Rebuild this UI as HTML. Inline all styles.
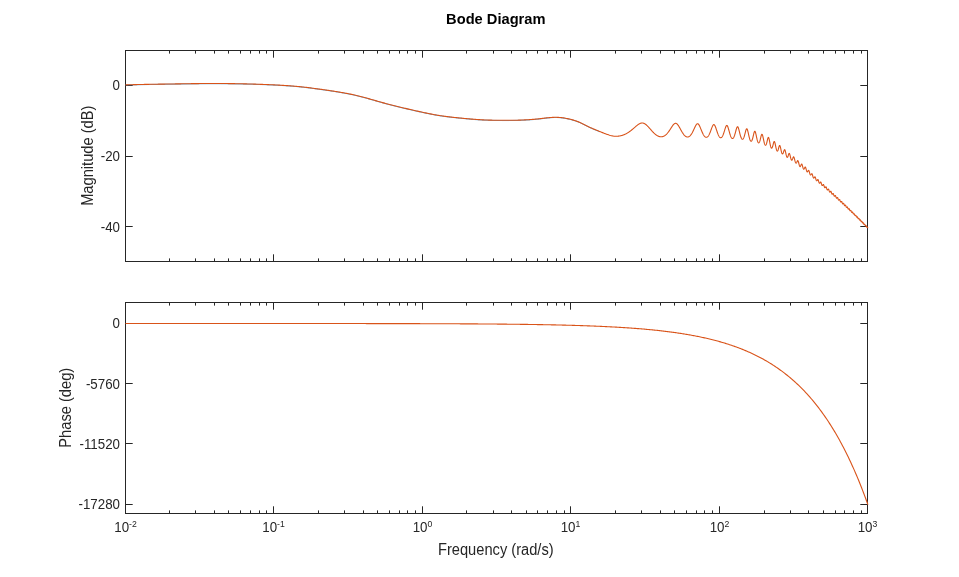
<!DOCTYPE html>
<html><head><meta charset="utf-8"><style>
html,body{margin:0;padding:0;background:#fff;}
svg{display:block;will-change:transform;}
text{font-family:"Liberation Sans",Arial,sans-serif;font-size:13.33px;fill:#262626;}
.lb{font-size:14.67px;}
</style></head><body>
<svg width="959" height="577" viewBox="0 0 959 577">
<rect width="959" height="577" fill="#fff"/>
<text transform="translate(495.8 23.8) scale(1 1.04)" text-anchor="middle" style="font-weight:bold;font-size:14.67px;fill:#000">Bode Diagram</text>
<g fill="none" stroke-linejoin="round">
<path d="M125.5 50.5H867.5V261.5H125.5V50.5M125.5 50.5v6.7M125.5 261.5v-6.7M169.5 50.5v2.6M169.5 261.5v-2.6M195.5 50.5v2.6M195.5 261.5v-2.6M214.5 50.5v2.6M214.5 261.5v-2.6M228.5 50.5v2.6M228.5 261.5v-2.6M240.5 50.5v2.6M240.5 261.5v-2.6M250.5 50.5v2.6M250.5 261.5v-2.6M259.5 50.5v2.6M259.5 261.5v-2.6M266.5 50.5v2.6M266.5 261.5v-2.6M273.5 50.5v6.7M273.5 261.5v-6.7M318.5 50.5v2.6M318.5 261.5v-2.6M344.5 50.5v2.6M344.5 261.5v-2.6M363.5 50.5v2.6M363.5 261.5v-2.6M377.5 50.5v2.6M377.5 261.5v-2.6M389.5 50.5v2.6M389.5 261.5v-2.6M399.5 50.5v2.6M399.5 261.5v-2.6M407.5 50.5v2.6M407.5 261.5v-2.6M415.5 50.5v2.6M415.5 261.5v-2.6M422.5 50.5v6.7M422.5 261.5v-6.7M466.5 50.5v2.6M466.5 261.5v-2.6M493.5 50.5v2.6M493.5 261.5v-2.6M511.5 50.5v2.6M511.5 261.5v-2.6M526.5 50.5v2.6M526.5 261.5v-2.6M537.5 50.5v2.6M537.5 261.5v-2.6M547.5 50.5v2.6M547.5 261.5v-2.6M556.5 50.5v2.6M556.5 261.5v-2.6M564.5 50.5v2.6M564.5 261.5v-2.6M570.5 50.5v6.7M570.5 261.5v-6.7M615.5 50.5v2.6M615.5 261.5v-2.6M641.5 50.5v2.6M641.5 261.5v-2.6M660.5 50.5v2.6M660.5 261.5v-2.6M674.5 50.5v2.6M674.5 261.5v-2.6M686.5 50.5v2.6M686.5 261.5v-2.6M696.5 50.5v2.6M696.5 261.5v-2.6M704.5 50.5v2.6M704.5 261.5v-2.6M712.5 50.5v2.6M712.5 261.5v-2.6M719.5 50.5v6.7M719.5 261.5v-6.7M764.5 50.5v2.6M764.5 261.5v-2.6M790.5 50.5v2.6M790.5 261.5v-2.6M808.5 50.5v2.6M808.5 261.5v-2.6M823.5 50.5v2.6M823.5 261.5v-2.6M835.5 50.5v2.6M835.5 261.5v-2.6M844.5 50.5v2.6M844.5 261.5v-2.6M853.5 50.5v2.6M853.5 261.5v-2.6M861.5 50.5v2.6M861.5 261.5v-2.6M867.5 50.5v6.7M867.5 261.5v-6.7M125.5 85.5h6.7M867.5 85.5h-6.7M125.5 156.5h6.7M867.5 156.5h-6.7M125.5 226.5h6.7M867.5 226.5h-6.7M125.5 302.5H867.5V513.5H125.5V302.5M125.5 302.5v6.7M125.5 513.5v-6.7M169.5 302.5v2.6M169.5 513.5v-2.6M195.5 302.5v2.6M195.5 513.5v-2.6M214.5 302.5v2.6M214.5 513.5v-2.6M228.5 302.5v2.6M228.5 513.5v-2.6M240.5 302.5v2.6M240.5 513.5v-2.6M250.5 302.5v2.6M250.5 513.5v-2.6M259.5 302.5v2.6M259.5 513.5v-2.6M266.5 302.5v2.6M266.5 513.5v-2.6M273.5 302.5v6.7M273.5 513.5v-6.7M318.5 302.5v2.6M318.5 513.5v-2.6M344.5 302.5v2.6M344.5 513.5v-2.6M363.5 302.5v2.6M363.5 513.5v-2.6M377.5 302.5v2.6M377.5 513.5v-2.6M389.5 302.5v2.6M389.5 513.5v-2.6M399.5 302.5v2.6M399.5 513.5v-2.6M407.5 302.5v2.6M407.5 513.5v-2.6M415.5 302.5v2.6M415.5 513.5v-2.6M422.5 302.5v6.7M422.5 513.5v-6.7M466.5 302.5v2.6M466.5 513.5v-2.6M493.5 302.5v2.6M493.5 513.5v-2.6M511.5 302.5v2.6M511.5 513.5v-2.6M526.5 302.5v2.6M526.5 513.5v-2.6M537.5 302.5v2.6M537.5 513.5v-2.6M547.5 302.5v2.6M547.5 513.5v-2.6M556.5 302.5v2.6M556.5 513.5v-2.6M564.5 302.5v2.6M564.5 513.5v-2.6M570.5 302.5v6.7M570.5 513.5v-6.7M615.5 302.5v2.6M615.5 513.5v-2.6M641.5 302.5v2.6M641.5 513.5v-2.6M660.5 302.5v2.6M660.5 513.5v-2.6M674.5 302.5v2.6M674.5 513.5v-2.6M686.5 302.5v2.6M686.5 513.5v-2.6M696.5 302.5v2.6M696.5 513.5v-2.6M704.5 302.5v2.6M704.5 513.5v-2.6M712.5 302.5v2.6M712.5 513.5v-2.6M719.5 302.5v6.7M719.5 513.5v-6.7M764.5 302.5v2.6M764.5 513.5v-2.6M790.5 302.5v2.6M790.5 513.5v-2.6M808.5 302.5v2.6M808.5 513.5v-2.6M823.5 302.5v2.6M823.5 513.5v-2.6M835.5 302.5v2.6M835.5 513.5v-2.6M844.5 302.5v2.6M844.5 513.5v-2.6M853.5 302.5v2.6M853.5 513.5v-2.6M861.5 302.5v2.6M861.5 513.5v-2.6M867.5 302.5v6.7M867.5 513.5v-6.7M125.5 323.5h6.7M867.5 323.5h-6.7M125.5 383.5h6.7M867.5 383.5h-6.7M125.5 443.5h6.7M867.5 443.5h-6.7M125.5 504.5h6.7M867.5 504.5h-6.7" stroke="#262626" stroke-width="1" stroke-linecap="square"/>
<path d="M125.50 85.10L126.50 85.07L127.50 85.03L128.50 85.00L129.50 84.97L130.50 84.94L131.50 84.91L132.50 84.89L133.50 84.86L134.50 84.83L135.50 84.81L136.50 84.78L137.50 84.76L138.50 84.73L139.50 84.71L140.50 84.69L141.50 84.67L142.50 84.65L143.50 84.63L144.50 84.61L145.50 84.59L146.50 84.57L147.50 84.55L148.50 84.53L149.50 84.52L150.50 84.50L151.50 84.48L152.50 84.46L153.50 84.45L154.50 84.43L155.50 84.42L156.50 84.40L157.50 84.39L158.50 84.37L159.50 84.36L160.50 84.34L161.50 84.33L162.50 84.31L163.50 84.30L164.50 84.28L165.50 84.27L166.50 84.25L167.50 84.24L168.50 84.22L169.50 84.21L170.50 84.19L171.50 84.18L172.50 84.16L173.50 84.15L174.50 84.13L175.50 84.11L176.50 84.10L177.50 84.08L178.50 84.06L179.50 84.05L180.50 84.03L181.50 84.02L182.50 84.00L183.50 83.99L184.50 83.97L185.50 83.95L186.50 83.94L187.50 83.92L188.50 83.91L189.50 83.89L190.50 83.88L191.50 83.87L192.50 83.85L193.50 83.84L194.50 83.83L195.50 83.82L196.50 83.80L197.50 83.79L198.50 83.78L199.50 83.77L200.50 83.76L201.50 83.75L202.50 83.74L203.50 83.73L204.50 83.73L205.50 83.72L206.50 83.71L207.50 83.71L208.50 83.71L209.50 83.70L210.50 83.70L211.50 83.70L212.50 83.70L213.50 83.69L214.50 83.70L215.50 83.70L216.50 83.70L217.50 83.70L218.50 83.70L219.50 83.71L220.50 83.71L221.50 83.72L222.50 83.73L223.50 83.73L224.50 83.74L225.50 83.75L226.50 83.76L227.50 83.77L228.50 83.78L229.50 83.79L230.50 83.81L231.50 83.82L232.50 83.83L233.50 83.85L234.50 83.87L235.50 83.88L236.50 83.90L237.50 83.92L238.50 83.94L239.50 83.95L240.50 83.97L241.50 84.00L242.50 84.02L243.50 84.04L244.50 84.06L245.50 84.09L246.50 84.11L247.50 84.13L248.50 84.16L249.50 84.19L250.50 84.21L251.50 84.24L252.50 84.27L253.50 84.30L254.50 84.33L255.50 84.36L256.50 84.39L257.50 84.42L258.50 84.46L259.50 84.49L260.50 84.53L261.50 84.56L262.50 84.60L263.50 84.63L264.50 84.67L265.50 84.71L266.50 84.75L267.50 84.79L268.50 84.84L269.50 84.88L270.50 84.92L271.50 84.97L272.50 85.02L273.50 85.06L274.50 85.11L275.50 85.16L276.50 85.21L277.50 85.26L278.50 85.32L279.50 85.37L280.50 85.43L281.50 85.48L282.50 85.54L283.50 85.60L284.50 85.66L285.50 85.73L286.50 85.79L287.50 85.86L288.50 85.93L289.50 86.00L290.50 86.07L291.50 86.15L292.50 86.23L293.50 86.31L294.50 86.39L295.50 86.48L296.50 86.56L297.50 86.66L298.50 86.75L299.50 86.85L300.50 86.95L301.50 87.06L302.50 87.16L303.50 87.27L304.50 87.39L305.50 87.50L306.50 87.62L307.50 87.74L308.50 87.87L309.50 87.99L310.50 88.12L311.50 88.25L312.50 88.38L313.50 88.51L314.50 88.65L315.50 88.78L316.50 88.92L317.50 89.05L318.50 89.19L319.50 89.33L320.50 89.47L321.50 89.61L322.50 89.75L323.50 89.89L324.50 90.03L325.50 90.17L326.50 90.31L327.50 90.46L328.50 90.60L329.50 90.75L330.50 90.90L331.50 91.05L332.50 91.20L333.50 91.35L334.50 91.51L335.50 91.67L336.50 91.82L337.50 91.99L338.50 92.15L339.50 92.32L340.50 92.48L341.50 92.66L342.50 92.83L343.50 93.01L344.50 93.19L345.50 93.37L346.50 93.56L347.50 93.75L348.50 93.94L349.50 94.14L350.50 94.35L351.50 94.55L352.50 94.76L353.50 94.98L354.50 95.20L355.50 95.42L356.50 95.65L357.50 95.89L358.50 96.13L359.50 96.38L360.50 96.63L361.50 96.88L362.50 97.14L363.50 97.41L364.50 97.68L365.50 97.95L366.50 98.23L367.50 98.51L368.50 98.80L369.50 99.08L370.50 99.37L371.50 99.66L372.50 99.94L373.50 100.23L374.50 100.52L375.50 100.81L376.50 101.10L377.50 101.39L378.50 101.67L379.50 101.96L380.50 102.24L381.50 102.52L382.50 102.80L383.50 103.07L384.50 103.34L385.50 103.61L386.50 103.88L387.50 104.14L388.50 104.41L389.50 104.67L390.50 104.93L391.50 105.18L392.50 105.44L393.50 105.69L394.50 105.94L395.50 106.19L396.50 106.44L397.50 106.69L398.50 106.93L399.50 107.18L400.50 107.42L401.50 107.66L402.50 107.90L403.50 108.14L404.50 108.38L405.50 108.61L406.50 108.85L407.50 109.08L408.50 109.31L409.50 109.54L410.50 109.77L411.50 110.00L412.50 110.23L413.50 110.46L414.50 110.68L415.50 110.90L416.50 111.13L417.50 111.35L418.50 111.57L419.50 111.79L420.50 112.01L421.50 112.23L422.50 112.44L423.50 112.66L424.50 112.87L425.50 113.08L426.50 113.29L427.50 113.50L428.50 113.70L429.50 113.91L430.50 114.11L431.50 114.30L432.50 114.49L433.50 114.68L434.50 114.87L435.50 115.05L436.50 115.22L437.50 115.39L438.50 115.56L439.50 115.72L440.50 115.88L441.50 116.03L442.50 116.18L443.50 116.32L444.50 116.45L445.50 116.59L446.50 116.72L447.50 116.84L448.50 116.96L449.50 117.08L450.50 117.20L451.50 117.31L452.50 117.42L453.50 117.53L454.50 117.64L455.50 117.74L456.50 117.85L457.50 117.95L458.50 118.05L459.50 118.15L460.50 118.25L461.50 118.35L462.50 118.45L463.50 118.55L464.50 118.64L465.50 118.74L466.50 118.83L467.50 118.93L468.50 119.02L469.50 119.11L470.50 119.20L471.50 119.28L472.50 119.36L473.50 119.45L474.50 119.52L475.50 119.60L476.50 119.67L477.50 119.74L478.50 119.81L479.50 119.87L480.50 119.93L481.50 119.98L482.50 120.04L483.50 120.09L484.50 120.13L485.50 120.17L486.50 120.21L487.50 120.25L488.50 120.28L489.50 120.31L490.50 120.34L491.50 120.37L492.50 120.39L493.50 120.41L494.50 120.43L495.50 120.45L496.50 120.46L497.50 120.47L498.50 120.49L499.50 120.50L500.50 120.50L501.50 120.51L502.50 120.52L503.50 120.52L504.50 120.52L505.50 120.52L506.50 120.52L507.50 120.52L508.50 120.52L509.50 120.51L510.50 120.50L511.50 120.49L512.50 120.48L513.50 120.46L514.50 120.44L515.50 120.42L516.50 120.40L517.50 120.38L518.50 120.35L519.50 120.32L520.50 120.28L521.50 120.25L522.50 120.21L523.50 120.16L524.50 120.12L525.50 120.07L526.50 120.02L527.50 119.96L528.50 119.90L529.50 119.84L530.50 119.77L531.50 119.70L532.50 119.62L533.50 119.54L534.50 119.45L535.50 119.36L536.50 119.27L537.50 119.17L538.50 119.07L539.50 118.96L540.50 118.84L541.50 118.72L542.50 118.60L543.50 118.48L544.50 118.36L545.50 118.24L546.50 118.12L547.50 118.01L548.50 117.90L549.50 117.81L550.50 117.72L551.50 117.65L552.50 117.58L553.50 117.54L554.50 117.51L555.50 117.50L556.50 117.51L557.50 117.54L558.50 117.59L559.50 117.65L560.50 117.74L561.50 117.85L562.50 117.97L563.50 118.11L564.50 118.27L565.50 118.44L566.50 118.63L567.50 118.83L568.50 119.05L569.50 119.28L570.50 119.52L571.50 119.78L572.50 120.06L573.50 120.34L574.50 120.65L575.50 120.98L576.50 121.32L577.50 121.69L578.50 122.07L579.50 122.49L580.50 122.92L581.50 123.38L582.50 123.86L583.50 124.35L584.50 124.85L585.50 125.36L586.50 125.87L587.50 126.37L588.50 126.87L589.50 127.36L590.50 127.83L591.50 128.29L592.50 128.73L593.50 129.16L594.50 129.58L595.50 129.99L596.50 130.39L597.50 130.80L598.50 131.20L599.50 131.60" stroke="#0072bd" stroke-width="0.7"/>
<path d="M125.50 84.90L126.50 84.87L127.50 84.83L128.50 84.80L129.50 84.77L130.50 84.74L131.50 84.71L132.50 84.69L133.50 84.66L134.50 84.63L135.50 84.61L136.50 84.58L137.50 84.56L138.50 84.53L139.50 84.51L140.50 84.49L141.50 84.47L142.50 84.45L143.50 84.43L144.50 84.41L145.50 84.39L146.50 84.37L147.50 84.35L148.50 84.33L149.50 84.32L150.50 84.30L151.50 84.28L152.50 84.26L153.50 84.25L154.50 84.23L155.50 84.22L156.50 84.20L157.50 84.19L158.50 84.17L159.50 84.16L160.50 84.14L161.50 84.13L162.50 84.11L163.50 84.10L164.50 84.08L165.50 84.07L166.50 84.05L167.50 84.04L168.50 84.02L169.50 84.01L170.50 83.99L171.50 83.98L172.50 83.96L173.50 83.95L174.50 83.93L175.50 83.91L176.50 83.90L177.50 83.88L178.50 83.86L179.50 83.85L180.50 83.83L181.50 83.82L182.50 83.80L183.50 83.79L184.50 83.77L185.50 83.75L186.50 83.74L187.50 83.72L188.50 83.71L189.50 83.69L190.50 83.68L191.50 83.67L192.50 83.65L193.50 83.64L194.50 83.63L195.50 83.62L196.50 83.60L197.50 83.59L198.50 83.58L199.50 83.57L200.50 83.56L201.50 83.55L202.50 83.54L203.50 83.53L204.50 83.53L205.50 83.52L206.50 83.51L207.50 83.51L208.50 83.51L209.50 83.50L210.50 83.50L211.50 83.50L212.50 83.50L213.50 83.49L214.50 83.50L215.50 83.50L216.50 83.50L217.50 83.50L218.50 83.50L219.50 83.51L220.50 83.51L221.50 83.52L222.50 83.53L223.50 83.53L224.50 83.54L225.50 83.55L226.50 83.56L227.50 83.57L228.50 83.58L229.50 83.59L230.50 83.61L231.50 83.62L232.50 83.63L233.50 83.65L234.50 83.67L235.50 83.68L236.50 83.70L237.50 83.72L238.50 83.74L239.50 83.75L240.50 83.77L241.50 83.80L242.50 83.82L243.50 83.84L244.50 83.86L245.50 83.89L246.50 83.91L247.50 83.93L248.50 83.96L249.50 83.99L250.50 84.01L251.50 84.04L252.50 84.07L253.50 84.10L254.50 84.13L255.50 84.16L256.50 84.19L257.50 84.22L258.50 84.26L259.50 84.29L260.50 84.33L261.50 84.36L262.50 84.40L263.50 84.43L264.50 84.47L265.50 84.51L266.50 84.55L267.50 84.59L268.50 84.64L269.50 84.68L270.50 84.72L271.50 84.77L272.50 84.82L273.50 84.86L274.50 84.91L275.50 84.96L276.50 85.01L277.50 85.06L278.50 85.12L279.50 85.17L280.50 85.23L281.50 85.28L282.50 85.34L283.50 85.40L284.50 85.46L285.50 85.53L286.50 85.59L287.50 85.66L288.50 85.73L289.50 85.80L290.50 85.87L291.50 85.95L292.50 86.03L293.50 86.11L294.50 86.19L295.50 86.28L296.50 86.36L297.50 86.46L298.50 86.55L299.50 86.65L300.50 86.75L301.50 86.86L302.50 86.96L303.50 87.07L304.50 87.19L305.50 87.30L306.50 87.42L307.50 87.54L308.50 87.67L309.50 87.79L310.50 87.92L311.50 88.05L312.50 88.18L313.50 88.31L314.50 88.45L315.50 88.58L316.50 88.72L317.50 88.85L318.50 88.99L319.50 89.13L320.50 89.27L321.50 89.41L322.50 89.55L323.50 89.69L324.50 89.83L325.50 89.97L326.50 90.11L327.50 90.26L328.50 90.40L329.50 90.55L330.50 90.70L331.50 90.85L332.50 91.00L333.50 91.15L334.50 91.31L335.50 91.47L336.50 91.62L337.50 91.79L338.50 91.95L339.50 92.12L340.50 92.28L341.50 92.46L342.50 92.63L343.50 92.81L344.50 92.99L345.50 93.17L346.50 93.36L347.50 93.55L348.50 93.74L349.50 93.94L350.50 94.15L351.50 94.35L352.50 94.56L353.50 94.78L354.50 95.00L355.50 95.22L356.50 95.45L357.50 95.69L358.50 95.93L359.50 96.18L360.50 96.43L361.50 96.68L362.50 96.94L363.50 97.21L364.50 97.48L365.50 97.75L366.50 98.03L367.50 98.31L368.50 98.60L369.50 98.88L370.50 99.17L371.50 99.46L372.50 99.74L373.50 100.03L374.50 100.32L375.50 100.61L376.50 100.90L377.50 101.19L378.50 101.47L379.50 101.76L380.50 102.04L381.50 102.32L382.50 102.60L383.50 102.87L384.50 103.14L385.50 103.41L386.50 103.68L387.50 103.94L388.50 104.21L389.50 104.47L390.50 104.73L391.50 104.98L392.50 105.24L393.50 105.49L394.50 105.74L395.50 105.99L396.50 106.24L397.50 106.49L398.50 106.73L399.50 106.98L400.50 107.22L401.50 107.46L402.50 107.70L403.50 107.94L404.50 108.18L405.50 108.41L406.50 108.65L407.50 108.88L408.50 109.11L409.50 109.34L410.50 109.57L411.50 109.80L412.50 110.03L413.50 110.26L414.50 110.48L415.50 110.70L416.50 110.93L417.50 111.15L418.50 111.37L419.50 111.59L420.50 111.81L421.50 112.03L422.50 112.24L423.50 112.46L424.50 112.67L425.50 112.88L426.50 113.09L427.50 113.30L428.50 113.50L429.50 113.71L430.50 113.91L431.50 114.10L432.50 114.29L433.50 114.48L434.50 114.67L435.50 114.85L436.50 115.02L437.50 115.19L438.50 115.36L439.50 115.52L440.50 115.68L441.50 115.83L442.50 115.98L443.50 116.12L444.50 116.25L445.50 116.39L446.50 116.52L447.50 116.64L448.50 116.76L449.50 116.88L450.50 117.00L451.50 117.11L452.50 117.22L453.50 117.33L454.50 117.44L455.50 117.54L456.50 117.65L457.50 117.75L458.50 117.85L459.50 117.95L460.50 118.05L461.50 118.15L462.50 118.25L463.50 118.35L464.50 118.44L465.50 118.54L466.50 118.63L467.50 118.73L468.50 118.82L469.50 118.91L470.50 119.00L471.50 119.08L472.50 119.16L473.50 119.25L474.50 119.32L475.50 119.40L476.50 119.47L477.50 119.54L478.50 119.61L479.50 119.67L480.50 119.73L481.50 119.78L482.50 119.84L483.50 119.89L484.50 119.93L485.50 119.97L486.50 120.01L487.50 120.05L488.50 120.08L489.50 120.11L490.50 120.14L491.50 120.17L492.50 120.19L493.50 120.21L494.50 120.23L495.50 120.25L496.50 120.26L497.50 120.27L498.50 120.29L499.50 120.30L500.50 120.30L501.50 120.31L502.50 120.32L503.50 120.32L504.50 120.32L505.50 120.32L506.50 120.32L507.50 120.32L508.50 120.32L509.50 120.31L510.50 120.30L511.50 120.29L512.50 120.28L513.50 120.26L514.50 120.24L515.50 120.22L516.50 120.20L517.50 120.18L518.50 120.15L519.50 120.12L520.50 120.08L521.50 120.05L522.50 120.01L523.50 119.96L524.50 119.92L525.50 119.87L526.50 119.82L527.50 119.76L528.50 119.70L529.50 119.64L530.50 119.57L531.50 119.50L532.50 119.42L533.50 119.34L534.50 119.25L535.50 119.16L536.50 119.07L537.50 118.97L538.50 118.87L539.50 118.76L540.50 118.64L541.50 118.52L542.50 118.40L543.50 118.28L544.50 118.16L545.50 118.04L546.50 117.92L547.50 117.81L548.50 117.70L549.50 117.61L550.50 117.52L551.50 117.45L552.50 117.38L553.50 117.34L554.50 117.31L555.50 117.30L556.50 117.31L557.50 117.34L558.50 117.39L559.50 117.45L560.50 117.54L561.50 117.65L562.50 117.77L563.50 117.91L564.50 118.07L565.50 118.24L566.50 118.43L567.50 118.63L568.50 118.85L569.50 119.08L570.50 119.32L571.50 119.58L572.50 119.86L573.50 120.14L574.50 120.45L575.50 120.78L576.50 121.12L577.50 121.49L578.50 121.87L579.50 122.29L580.50 122.72L581.50 123.18L582.50 123.66L583.50 124.15L584.50 124.65L585.50 125.16L586.50 125.67L587.50 126.17L588.50 126.67L589.50 127.16L590.50 127.63L591.50 128.09L592.50 128.53L593.50 128.96L594.50 129.38L595.50 129.79L596.50 130.19L597.50 130.60L598.50 131.00L599.50 131.40L600.50 131.80L601.50 132.21L602.50 132.62L603.50 133.02L604.50 133.41L605.50 133.80L606.50 134.17L607.50 134.52L608.50 134.85L609.50 135.16L610.50 135.44L611.50 135.69L612.50 135.90L613.50 136.08L614.50 136.21L615.40 136.30L615.60 136.30L615.80 136.30L616.00 136.30L616.20 136.30L616.40 136.29L616.60 136.28L616.80 136.28L617.00 136.27L617.20 136.25L617.40 136.24L617.60 136.23L617.80 136.21L618.00 136.19L618.20 136.17L618.40 136.15L618.60 136.12L618.80 136.10L619.00 136.07L619.20 136.04L619.40 136.01L619.60 135.97L619.80 135.94L620.00 135.90L620.20 135.86L620.40 135.82L620.60 135.77L620.80 135.73L621.00 135.68L621.20 135.63L621.40 135.58L621.60 135.53L621.80 135.47L622.00 135.41L622.20 135.35L622.40 135.29L622.60 135.23L622.80 135.16L623.00 135.09L623.20 135.02L623.40 134.95L623.60 134.87L623.80 134.79L624.00 134.72L624.20 134.63L624.40 134.55L624.60 134.46L624.80 134.38L625.00 134.28L625.20 134.19L625.40 134.10L625.60 134.00L625.80 133.90L626.00 133.80L626.20 133.69L626.40 133.59L626.60 133.48L626.80 133.37L627.00 133.25L627.20 133.14L627.40 133.02L627.60 132.90L627.80 132.78L628.00 132.65L628.20 132.52L628.40 132.39L628.60 132.26L628.80 132.13L629.00 131.99L629.20 131.86L629.40 131.71L629.60 131.57L629.80 131.43L630.00 131.28L630.20 131.13L630.40 130.98L630.60 130.83L630.80 130.68L631.00 130.52L631.20 130.36L631.40 130.20L631.60 130.04L631.80 129.88L632.00 129.71L632.20 129.55L632.40 129.38L632.60 129.21L632.80 129.04L633.00 128.87L633.20 128.70L633.40 128.52L633.60 128.35L633.80 128.18L634.00 128.00L634.20 127.83L634.40 127.65L634.60 127.48L634.80 127.30L635.00 127.13L635.20 126.95L635.40 126.78L635.60 126.60L635.80 126.43L636.00 126.26L636.20 126.09L636.40 125.92L636.60 125.76L636.80 125.59L637.00 125.43L637.20 125.28L637.40 125.12L637.60 124.97L637.80 124.82L638.00 124.67L638.20 124.53L638.40 124.40L638.60 124.26L638.80 124.14L639.00 124.01L639.20 123.90L639.40 123.79L639.60 123.68L639.80 123.59L640.00 123.49L640.20 123.41L640.40 123.33L640.60 123.26L640.80 123.20L641.00 123.15L641.20 123.10L641.40 123.06L641.60 123.03L641.80 123.01L642.00 123.00L642.20 123.00L642.40 123.01L642.60 123.02L642.80 123.04L643.00 123.08L643.20 123.12L643.40 123.17L643.60 123.23L643.80 123.30L644.00 123.38L644.20 123.47L644.40 123.57L644.60 123.67L644.80 123.79L645.00 123.91L645.20 124.04L645.40 124.17L645.60 124.32L645.80 124.47L646.00 124.63L646.20 124.79L646.40 124.96L646.60 125.14L646.80 125.32L647.00 125.51L647.20 125.71L647.40 125.90L647.60 126.11L647.80 126.31L648.00 126.52L648.20 126.74L648.40 126.95L648.60 127.17L648.80 127.39L649.00 127.62L649.20 127.84L649.40 128.07L649.60 128.30L649.80 128.52L650.00 128.75L650.20 128.98L650.40 129.21L650.60 129.44L650.80 129.67L651.00 129.90L651.20 130.13L651.40 130.35L651.60 130.58L651.80 130.80L652.00 131.02L652.20 131.24L652.40 131.46L652.60 131.67L652.80 131.88L653.00 132.09L653.20 132.30L653.40 132.50L653.60 132.70L653.80 132.90L654.00 133.09L654.20 133.28L654.40 133.47L654.60 133.65L654.80 133.83L655.00 134.00L655.20 134.17L655.40 134.33L655.60 134.49L655.80 134.65L656.00 134.80L656.20 134.95L656.40 135.09L656.60 135.22L656.80 135.36L657.00 135.48L657.20 135.60L657.40 135.72L657.60 135.83L657.80 135.93L658.00 136.03L658.20 136.13L658.40 136.21L658.60 136.30L658.80 136.37L659.00 136.44L659.20 136.51L659.40 136.56L659.60 136.62L659.80 136.66L660.00 136.70L660.20 136.73L660.40 136.76L660.60 136.78L660.80 136.79L661.00 136.80L661.20 136.80L661.40 136.80L661.60 136.78L661.80 136.76L662.00 136.74L662.20 136.70L662.40 136.66L662.60 136.61L662.80 136.56L663.00 136.49L663.20 136.43L663.40 136.35L663.60 136.26L663.80 136.17L664.00 136.07L664.20 135.97L664.40 135.85L664.60 135.73L664.80 135.60L665.00 135.46L665.20 135.32L665.40 135.17L665.60 135.01L665.80 134.84L666.00 134.67L666.20 134.48L666.40 134.29L666.60 134.10L666.80 133.89L667.00 133.68L667.20 133.46L667.40 133.23L667.60 132.99L667.80 132.75L668.00 132.50L668.20 132.25L668.40 131.99L668.60 131.72L668.80 131.44L669.00 131.16L669.20 130.88L669.40 130.59L669.60 130.29L669.80 129.99L670.00 129.69L670.20 129.38L670.40 129.07L670.60 128.76L670.80 128.45L671.00 128.14L671.20 127.82L671.40 127.51L671.60 127.20L671.80 126.89L672.00 126.59L672.20 126.29L672.40 126.00L672.60 125.72L672.80 125.45L673.00 125.18L673.20 124.93L673.40 124.69L673.60 124.47L673.80 124.26L674.00 124.07L674.20 123.89L674.40 123.74L674.60 123.61L674.80 123.50L675.00 123.41L675.20 123.35L675.40 123.31L675.60 123.30L675.80 123.31L676.00 123.35L676.20 123.41L676.40 123.50L676.60 123.61L676.80 123.75L677.00 123.91L677.20 124.10L677.40 124.30L677.60 124.53L677.80 124.78L678.00 125.04L678.20 125.32L678.40 125.62L678.60 125.92L678.80 126.24L679.00 126.58L679.20 126.92L679.40 127.26L679.60 127.62L679.80 127.98L680.00 128.34L680.20 128.70L680.40 129.07L680.60 129.43L680.80 129.80L681.00 130.16L681.20 130.52L681.40 130.87L681.60 131.22L681.80 131.57L682.00 131.90L682.20 132.23L682.40 132.56L682.60 132.87L682.80 133.18L683.00 133.47L683.20 133.76L683.40 134.04L683.60 134.31L683.80 134.56L684.00 134.81L684.20 135.04L684.40 135.26L684.60 135.47L684.80 135.66L685.00 135.85L685.20 136.02L685.40 136.18L685.60 136.32L685.80 136.45L686.00 136.57L686.20 136.67L686.40 136.76L686.60 136.84L686.80 136.90L687.00 136.95L687.20 136.98L687.40 137.00L687.60 137.00L687.80 136.99L688.00 136.96L688.20 136.92L688.40 136.86L688.60 136.78L688.80 136.69L689.00 136.59L689.20 136.47L689.40 136.33L689.60 136.18L689.80 136.01L690.00 135.83L690.20 135.63L690.40 135.41L690.60 135.18L690.80 134.94L691.00 134.67L691.20 134.40L691.40 134.10L691.60 133.80L691.80 133.47L692.00 133.14L692.20 132.79L692.40 132.42L692.60 132.05L692.80 131.66L693.00 131.26L693.20 130.85L693.40 130.43L693.60 130.01L693.80 129.58L694.00 129.14L694.20 128.70L694.40 128.26L694.60 127.83L694.80 127.40L695.00 126.97L695.20 126.56L695.40 126.16L695.60 125.78L695.80 125.42L696.00 125.08L696.20 124.77L696.40 124.50L696.60 124.26L696.80 124.06L697.00 123.90L697.20 123.79L697.40 123.72L697.60 123.70L697.80 123.73L698.00 123.82L698.20 123.95L698.40 124.12L698.60 124.34L698.80 124.61L699.00 124.92L699.20 125.26L699.40 125.63L699.60 126.03L699.80 126.46L700.00 126.91L700.20 127.38L700.40 127.86L700.60 128.34L700.80 128.84L701.00 129.34L701.20 129.83L701.40 130.33L701.60 130.82L701.80 131.30L702.00 131.77L702.20 132.23L702.40 132.67L702.60 133.11L702.80 133.52L703.00 133.92L703.20 134.30L703.40 134.66L703.60 135.00L703.80 135.31L704.00 135.61L704.20 135.89L704.40 136.14L704.60 136.36L704.80 136.57L705.00 136.75L705.20 136.90L705.40 137.03L705.60 137.14L705.80 137.22L706.00 137.27L706.20 137.30L706.40 137.30L706.60 137.27L706.80 137.22L707.00 137.14L707.20 137.03L707.40 136.89L707.60 136.73L707.80 136.54L708.00 136.32L708.20 136.07L708.40 135.80L708.60 135.50L708.80 135.17L709.00 134.82L709.20 134.44L709.40 134.03L709.60 133.60L709.80 133.15L710.00 132.67L710.20 132.18L710.40 131.66L710.60 131.14L710.80 130.60L711.00 130.05L711.20 129.49L711.40 128.94L711.60 128.39L711.80 127.85L712.00 127.33L712.20 126.84L712.40 126.37L712.60 125.95L712.80 125.57L713.00 125.24L713.20 124.97L713.40 124.77L713.60 124.65L713.80 124.59L714.00 124.62L714.20 124.72L714.40 124.89L714.60 125.14L714.80 125.46L715.00 125.83L715.20 126.26L715.40 126.74L715.60 127.26L715.80 127.81L716.00 128.39L716.20 128.98L716.40 129.58L716.60 130.19L716.80 130.79L717.00 131.39L717.20 131.97L717.40 132.54L717.60 133.09L717.80 133.62L718.00 134.13L718.20 134.60L718.40 135.05L718.60 135.47L718.80 135.85L719.00 136.20L719.20 136.52L719.40 136.80L719.60 137.04L719.80 137.25L720.00 137.42L720.20 137.54L720.40 137.63L720.60 137.69L720.80 137.70L721.00 137.67L721.20 137.59L721.40 137.48L721.60 137.33L721.80 137.13L722.00 136.89L722.20 136.61L722.40 136.29L722.60 135.92L722.80 135.52L723.00 135.08L723.20 134.59L723.40 134.07L723.60 133.52L723.80 132.94L724.00 132.32L724.20 131.69L724.40 131.04L724.60 130.37L724.80 129.71L725.00 129.05L725.20 128.41L725.40 127.80L725.60 127.23L725.80 126.71L726.00 126.27L726.20 125.90L726.40 125.63L726.60 125.47L726.80 125.41L727.00 125.47L727.20 125.63L727.40 125.91L727.60 126.29L727.80 126.75L728.00 127.30L728.20 127.91L728.40 128.57L728.60 129.26L728.80 129.98L729.00 130.72L729.20 131.45L729.40 132.18L729.60 132.88L729.80 133.57L730.00 134.22L730.20 134.84L730.40 135.42L730.60 135.96L730.80 136.45L731.00 136.89L731.20 137.28L731.40 137.62L731.60 137.91L731.80 138.14L732.00 138.31L732.20 138.43L732.40 138.49L732.60 138.49L732.80 138.43L733.00 138.32L733.20 138.14L733.40 137.90L733.60 137.61L733.80 137.25L734.00 136.84L734.20 136.37L734.40 135.84L734.60 135.26L734.80 134.63L735.00 133.96L735.20 133.26L735.40 132.52L735.60 131.77L735.80 131.01L736.00 130.25L736.20 129.52L736.40 128.84L736.60 128.22L736.80 127.68L737.00 127.24L737.20 126.93L737.40 126.75L737.60 126.72L737.80 126.83L738.00 127.09L738.20 127.48L738.40 128.00L738.60 128.61L738.80 129.31L739.00 130.07L739.20 130.86L739.40 131.68L739.60 132.50L739.80 133.31L740.00 134.09L740.20 134.84L740.40 135.55L740.60 136.21L740.80 136.81L741.00 137.36L741.20 137.84L741.40 138.26L741.60 138.60L741.80 138.88L742.00 139.09L742.20 139.22L742.40 139.29L742.60 139.27L742.80 139.19L743.00 139.03L743.20 138.79L743.40 138.48L743.60 138.09L743.80 137.63L744.00 137.10L744.20 136.51L744.40 135.85L744.60 135.14L744.80 134.38L745.00 133.60L745.20 132.80L745.40 132.01L745.60 131.24L745.80 130.53L746.00 129.91L746.20 129.39L746.40 129.01L746.60 128.79L746.80 128.75L747.00 128.89L747.20 129.20L747.40 129.67L747.60 130.28L747.80 131.01L748.00 131.83L748.20 132.70L748.40 133.60L748.60 134.51L748.80 135.41L749.00 136.28L749.20 137.11L749.40 137.88L749.60 138.59L749.80 139.22L750.00 139.78L750.20 140.25L750.40 140.64L750.60 140.94L750.80 141.14L751.00 141.25L751.20 141.26L751.40 141.17L751.60 140.98L751.80 140.69L752.00 140.31L752.20 139.82L752.40 139.25L752.60 138.59L752.80 137.86L753.00 137.07L753.20 136.22L753.40 135.36L753.60 134.50L753.80 133.67L754.00 132.90L754.20 132.25L754.40 131.74L754.60 131.41L754.80 131.27L755.00 131.35L755.20 131.64L755.40 132.13L755.60 132.78L755.80 133.57L756.00 134.45L756.20 135.39L756.40 136.35L756.60 137.31L756.80 138.23L757.00 139.10L757.20 139.91L757.40 140.63L757.60 141.26L757.80 141.79L758.00 142.22L758.20 142.54L758.40 142.76L758.60 142.86L758.80 142.85L759.00 142.73L759.20 142.50L759.40 142.15L759.60 141.69L759.80 141.13L760.00 140.48L760.20 139.75L760.40 138.95L760.60 138.12L760.80 137.27L761.00 136.46L761.20 135.72L761.40 135.09L761.60 134.63L761.80 134.36L762.00 134.30L762.20 134.47L762.40 134.86L762.60 135.44L762.80 136.18L763.00 137.04L763.20 137.97L763.40 138.94L763.60 139.90L763.80 140.84L764.00 141.73L764.20 142.54L764.40 143.26L764.60 143.88L764.80 144.39L765.00 144.79L765.20 145.06L765.40 145.20L765.60 145.21L765.80 145.09L766.00 144.84L766.20 144.45L766.40 143.93L766.60 143.30L766.80 142.57L767.00 141.76L767.20 140.90L767.40 140.03L767.60 139.20L767.80 138.47L768.00 137.89L768.20 137.51L768.40 137.38L768.60 137.52L768.80 137.91L769.00 138.55L769.20 139.38L769.40 140.34L769.60 141.39L769.80 142.47L770.00 143.53L770.20 144.53L770.40 145.44L770.60 146.25L770.80 146.93L771.00 147.48L771.20 147.88L771.40 148.13L771.60 148.23L771.80 148.17L772.00 147.97L772.20 147.62L772.40 147.14L772.60 146.53L772.80 145.83L773.00 145.06L773.20 144.26L773.40 143.47L773.60 142.74L773.80 142.14L774.00 141.71L774.20 141.52L774.40 141.58L774.60 141.89L774.80 142.43L775.00 143.15L775.20 144.00L775.40 144.93L775.60 145.89L775.80 146.84L776.00 147.75L776.20 148.58L776.40 149.33L776.60 149.96L776.80 150.47L777.00 150.84L777.20 151.05L777.40 151.10L777.60 150.98L777.80 150.70L778.00 150.27L778.20 149.69L778.40 149.00L778.60 148.25L778.80 147.47L779.00 146.74L779.20 146.11L779.40 145.67L779.60 145.45L779.80 145.50L780.00 145.81L780.20 146.35L780.40 147.08L780.60 147.95L780.80 148.90L781.00 149.85L781.20 150.78L781.40 151.62L781.60 152.36L781.80 152.97L782.00 153.44L782.20 153.75L782.40 153.90L782.60 153.89L782.80 153.73L783.00 153.43L783.20 153.00L783.40 152.47L783.60 151.87L783.80 151.25L784.00 150.66L784.20 150.16L784.40 149.81L784.60 149.67L784.80 149.75L785.00 150.08L785.20 150.63L785.40 151.36L785.60 152.22L785.80 153.14L786.00 154.06L786.20 154.93L786.40 155.71L786.60 156.36L786.80 156.87L787.00 157.20L787.20 157.36L787.40 157.33L787.60 157.13L787.80 156.76L788.00 156.26L788.20 155.66L788.40 155.01L788.60 154.39L788.80 153.86L789.00 153.51L789.20 153.38L789.40 153.49L789.60 153.85L789.80 154.42L790.00 155.14L790.20 155.95L790.40 156.80L790.60 157.62L790.80 158.39L791.00 159.06L791.20 159.59L791.40 159.98L791.60 160.20L791.80 160.25L792.00 160.12L792.20 159.83L792.40 159.41L792.60 158.89L792.80 158.32L793.00 157.76L793.20 157.28L793.40 156.95L793.60 156.83L793.80 156.95L794.00 157.31L794.20 157.87L794.40 158.58L794.60 159.37L794.80 160.19L795.00 160.97L795.20 161.67L795.40 162.26L795.60 162.71L795.80 163.01L796.00 163.15L796.20 163.12L796.40 162.93L796.60 162.61L796.80 162.20L797.00 161.73L797.20 161.28L797.40 160.90L797.60 160.66L797.80 160.63L798.00 160.81L798.20 161.21L798.40 161.78L798.60 162.49L798.80 163.26L799.00 164.05L799.20 164.80L799.40 165.46L799.60 166.00L799.80 166.39L800.00 166.59L800.20 166.60L800.40 166.41L800.60 166.06L800.80 165.61L801.00 165.10L801.20 164.62L801.40 164.24L801.60 164.05L801.80 164.08L802.00 164.37L802.20 164.87L802.40 165.55L802.60 166.31L802.80 167.09L803.00 167.81L803.20 168.41L803.40 168.85L803.60 169.11L803.80 169.18L804.00 169.06L804.20 168.79L804.40 168.40L804.60 167.95L804.80 167.53L805.00 167.20L805.20 167.05L805.40 167.13L805.60 167.45L805.80 167.98L806.00 168.67L806.20 169.44L806.40 170.19L806.60 170.86L806.80 171.39L807.00 171.74L807.20 171.91L807.40 171.89L807.60 171.72L807.80 171.43L808.00 171.06L808.20 170.71L808.40 170.45L808.60 170.35L808.80 170.47L809.00 170.82L809.20 171.38L809.40 172.07L809.60 172.82L809.80 173.55L810.00 174.18L810.20 174.66L810.40 174.95L810.60 175.05L810.80 174.97L811.00 174.74L811.20 174.42L811.40 174.08L811.60 173.81L811.80 173.69L812.00 173.80L812.20 174.13L812.40 174.68L812.60 175.37L812.80 176.11L813.00 176.82L813.20 177.41L813.40 177.84L813.60 178.08L813.80 178.11L814.00 177.96L814.20 177.68L814.40 177.34L814.60 177.03L814.80 176.83L815.00 176.84L815.20 177.09L815.40 177.56L815.60 178.19L815.80 178.91L816.00 179.59L816.20 180.18L816.40 180.59L816.60 180.81L816.80 180.81L817.00 180.63L817.20 180.33L817.40 179.98L817.60 179.69L817.80 179.55L818.00 179.63L818.20 179.95L818.40 180.49L818.60 181.15L818.80 181.84L819.00 182.46L819.20 182.94L819.40 183.21L819.60 183.27L819.80 183.13L820.00 182.84L820.20 182.50L820.40 182.20L820.60 182.05L820.80 182.12L821.00 182.45L821.20 182.99L821.40 183.65L821.60 184.33L821.80 184.91L822.00 185.33L822.20 185.54L822.40 185.53L822.60 185.34L822.80 185.03L823.00 184.70L823.20 184.47L823.40 184.45L823.60 184.67L823.80 185.14L824.00 185.77L824.20 186.44L824.40 187.06L824.60 187.52L824.80 187.77L825.00 187.79L825.20 187.61L825.40 187.32L825.60 187.01L825.80 186.80L826.00 186.81L826.20 187.07L826.40 187.57L826.60 188.21L826.80 188.88L827.00 189.45L827.20 189.85L827.40 190.01L827.60 189.95L827.80 189.71L828.00 189.41L828.20 189.15L828.40 189.06L828.60 189.22L828.80 189.64L829.00 190.25L829.20 190.92L829.40 191.52L829.60 191.95L829.80 192.15L830.00 192.11L830.20 191.90L830.40 191.60L830.60 191.35L830.80 191.27L831.00 191.46L831.20 191.90L831.40 192.52L831.60 193.18L831.80 193.75L832.00 194.12L832.20 194.25L832.40 194.15L832.60 193.90L832.80 193.61L833.00 193.43L833.20 193.48L833.40 193.80L833.60 194.35L833.80 195.01L834.00 195.62L834.20 196.06L834.40 196.27L834.60 196.23L834.80 196.01L835.00 195.72L835.20 195.53L835.40 195.55L835.60 195.85L835.80 196.38L836.00 197.03L836.20 197.63L836.40 198.06L836.60 198.25L836.80 198.19L837.00 197.96L837.20 197.69L837.40 197.53L837.60 197.63L837.80 198.00L838.00 198.58L838.20 199.23L838.40 199.77L838.60 200.10L838.80 200.17L839.00 200.02L839.20 199.76L839.40 199.54L839.60 199.53L839.80 199.80L840.00 200.32L840.20 200.96L840.40 201.54L840.60 201.93L840.80 202.06L841.00 201.95L841.20 201.70L841.40 201.47L841.60 201.44L841.80 201.70L842.00 202.21L842.20 202.84L842.40 203.41L842.60 203.79L842.80 203.89L843.00 203.76L843.20 203.51L843.40 203.31L843.60 203.35L843.80 203.68L844.00 204.23L844.20 204.86L844.40 205.38L844.60 205.65L844.80 205.65L845.00 205.45L845.20 205.21L845.40 205.12L845.60 205.31L845.80 205.78L846.00 206.40L846.20 206.97L846.40 207.34L846.60 207.43L846.80 207.28L847.00 207.04L847.20 206.90L847.40 207.03L847.60 207.46L847.80 208.06L848.00 208.65L848.20 209.04L848.40 209.14L848.60 209.01L848.80 208.77L849.00 208.65L849.20 208.79L849.40 209.23L849.60 209.84L849.80 210.41L850.00 210.75L850.20 210.81L850.40 210.64L850.60 210.42L850.80 210.36L851.00 210.60L851.20 211.11L851.40 211.73L851.60 212.22L851.80 212.45L852.00 212.40L852.20 212.18L852.40 212.02L852.60 212.11L852.80 212.51L853.00 213.11L853.20 213.67L853.40 214.01L853.60 214.05L853.80 213.87L854.00 213.68L854.20 213.69L854.40 214.02L854.60 214.58L854.80 215.16L855.00 215.55L855.20 215.63L855.40 215.48L855.60 215.28L855.80 215.28L856.00 215.59L856.20 216.15L856.40 216.73L856.60 217.10L856.80 217.17L857.00 217.01L857.20 216.83L857.40 216.87L857.60 217.23L857.80 217.81L858.00 218.36L858.20 218.66L858.40 218.66L858.60 218.48L858.80 218.34L859.00 218.49L859.20 218.95L859.40 219.54L859.60 220.01L859.80 220.19L860.00 220.08L860.20 219.89L860.40 219.88L860.60 220.20L860.80 220.76L861.00 221.31L861.20 221.61L861.40 221.61L861.60 221.42L861.80 221.33L862.00 221.54L862.20 222.05L862.40 222.62L862.60 223.00L862.80 223.06L863.00 222.90L863.20 222.77L863.40 222.93L863.60 223.40L863.80 223.98L864.00 224.39L864.20 224.47L864.40 224.32L864.60 224.19L864.80 224.35L865.00 224.82L865.20 225.40L865.40 225.79L865.60 225.85L865.80 225.69L866.00 225.59L866.20 225.80L866.40 226.31L866.60 226.87L866.80 227.19L867.00 227.18L867.20 227.01L867.40 226.98L867.50 227.10L867.90 228.13" stroke="#d95319" stroke-width="1.1"/>
<path d="M125.50 323.50L126.50 323.50L127.50 323.50L128.50 323.50L129.50 323.50L130.50 323.50L131.50 323.50L132.50 323.50L133.50 323.50L134.50 323.50L135.50 323.50L136.50 323.50L137.50 323.50L138.50 323.50L139.50 323.50L140.50 323.50L141.50 323.50L142.50 323.50L143.50 323.50L144.50 323.50L145.50 323.50L146.50 323.50L147.50 323.50L148.50 323.50L149.50 323.50L150.50 323.50L151.50 323.50L152.50 323.50L153.50 323.50L154.50 323.50L155.50 323.50L156.50 323.50L157.50 323.50L158.50 323.50L159.50 323.50L160.50 323.50L161.50 323.50L162.50 323.50L163.50 323.50L164.50 323.50L165.50 323.50L166.50 323.50L167.50 323.50L168.50 323.50L169.50 323.50L170.50 323.50L171.50 323.50L172.50 323.50L173.50 323.50L174.50 323.50L175.50 323.50L176.50 323.50L177.50 323.50L178.50 323.50L179.50 323.50L180.50 323.50L181.50 323.50L182.50 323.50L183.50 323.50L184.50 323.50L185.50 323.50L186.50 323.50L187.50 323.50L188.50 323.50L189.50 323.50L190.50 323.50L191.50 323.51L192.50 323.51L193.50 323.51L194.50 323.51L195.50 323.51L196.50 323.51L197.50 323.51L198.50 323.51L199.50 323.51L200.50 323.51L201.50 323.51L202.50 323.51L203.50 323.51L204.50 323.51L205.50 323.51L206.50 323.51L207.50 323.51L208.50 323.51L209.50 323.51L210.50 323.51L211.50 323.51L212.50 323.51L213.50 323.51L214.50 323.51L215.50 323.51L216.50 323.51L217.50 323.51L218.50 323.51L219.50 323.51L220.50 323.51L221.50 323.51L222.50 323.51L223.50 323.51L224.50 323.51L225.50 323.51L226.50 323.51L227.50 323.51L228.50 323.51L229.50 323.51L230.50 323.51L231.50 323.51L232.50 323.51L233.50 323.51L234.50 323.51L235.50 323.51L236.50 323.51L237.50 323.51L238.50 323.51L239.50 323.51L240.50 323.51L241.50 323.51L242.50 323.51L243.50 323.51L244.50 323.51L245.50 323.51L246.50 323.51L247.50 323.51L248.50 323.51L249.50 323.51L250.50 323.51L251.50 323.51L252.50 323.51L253.50 323.51L254.50 323.51L255.50 323.51L256.50 323.51L257.50 323.51L258.50 323.51L259.50 323.51L260.50 323.51L261.50 323.51L262.50 323.52L263.50 323.52L264.50 323.52L265.50 323.52L266.50 323.52L267.50 323.52L268.50 323.52L269.50 323.52L270.50 323.52L271.50 323.52L272.50 323.52L273.50 323.52L274.50 323.52L275.50 323.52L276.50 323.52L277.50 323.52L278.50 323.52L279.50 323.52L280.50 323.52L281.50 323.52L282.50 323.52L283.50 323.52L284.50 323.52L285.50 323.52L286.50 323.52L287.50 323.52L288.50 323.52L289.50 323.52L290.50 323.52L291.50 323.52L292.50 323.52L293.50 323.52L294.50 323.52L295.50 323.53L296.50 323.53L297.50 323.53L298.50 323.53L299.50 323.53L300.50 323.53L301.50 323.53L302.50 323.53L303.50 323.53L304.50 323.53L305.50 323.53L306.50 323.53L307.50 323.53L308.50 323.53L309.50 323.53L310.50 323.53L311.50 323.53L312.50 323.53L313.50 323.53L314.50 323.53L315.50 323.53L316.50 323.53L317.50 323.54L318.50 323.54L319.50 323.54L320.50 323.54L321.50 323.54L322.50 323.54L323.50 323.54L324.50 323.54L325.50 323.54L326.50 323.54L327.50 323.54L328.50 323.54L329.50 323.54L330.50 323.54L331.50 323.54L332.50 323.54L333.50 323.55L334.50 323.55L335.50 323.55L336.50 323.55L337.50 323.55L338.50 323.55L339.50 323.55L340.50 323.55L341.50 323.55L342.50 323.55L343.50 323.55L344.50 323.55L345.50 323.55L346.50 323.56L347.50 323.56L348.50 323.56L349.50 323.56L350.50 323.56L351.50 323.56L352.50 323.56L353.50 323.56L354.50 323.56L355.50 323.56L356.50 323.56L357.50 323.57L358.50 323.57L359.50 323.57L360.50 323.57L361.50 323.57L362.50 323.57L363.50 323.57L364.50 323.57L365.50 323.57L366.50 323.58L367.50 323.58L368.50 323.58L369.50 323.58L370.50 323.58L371.50 323.58L372.50 323.58L373.50 323.58L374.50 323.59L375.50 323.59L376.50 323.59L377.50 323.59L378.50 323.59L379.50 323.59L380.50 323.59L381.50 323.60L382.50 323.60L383.50 323.60L384.50 323.60L385.50 323.60L386.50 323.60L387.50 323.60L388.50 323.61L389.50 323.61L390.50 323.61L391.50 323.61L392.50 323.61L393.50 323.62L394.50 323.62L395.50 323.62L396.50 323.62L397.50 323.62L398.50 323.62L399.50 323.63L400.50 323.63L401.50 323.63L402.50 323.63L403.50 323.63L404.50 323.64L405.50 323.64L406.50 323.64L407.50 323.64L408.50 323.65L409.50 323.65L410.50 323.65L411.50 323.65L412.50 323.65L413.50 323.66L414.50 323.66L415.50 323.66L416.50 323.66L417.50 323.67L418.50 323.67L419.50 323.67L420.50 323.68L421.50 323.68L422.50 323.68L423.50 323.68L424.50 323.69L425.50 323.69L426.50 323.69L427.50 323.70L428.50 323.70L429.50 323.70L430.50 323.70L431.50 323.71L432.50 323.71L433.50 323.71L434.50 323.72L435.50 323.72L436.50 323.72L437.50 323.73L438.50 323.73L439.50 323.74L440.50 323.74L441.50 323.74L442.50 323.75L443.50 323.75L444.50 323.75L445.50 323.76L446.50 323.76L447.50 323.77L448.50 323.77L449.50 323.77L450.50 323.78L451.50 323.78L452.50 323.79L453.50 323.79L454.50 323.80L455.50 323.80L456.50 323.81L457.50 323.81L458.50 323.82L459.50 323.82L460.50 323.83L461.50 323.83L462.50 323.84L463.50 323.84L464.50 323.85L465.50 323.85L466.50 323.86L467.50 323.86L468.50 323.87L469.50 323.87L470.50 323.88L471.50 323.89L472.50 323.89L473.50 323.90L474.50 323.90L475.50 323.91L476.50 323.92L477.50 323.92L478.50 323.93L479.50 323.94L480.50 323.94L481.50 323.95L482.50 323.96L483.50 323.97L484.50 323.97L485.50 323.98L486.50 323.99L487.50 324.00L488.50 324.00L489.50 324.01L490.50 324.02L491.50 324.03L492.50 324.04L493.50 324.04L494.50 324.05L495.50 324.06L496.50 324.07L497.50 324.08L498.50 324.09L499.50 324.10L500.50 324.11L501.50 324.12L502.50 324.12L503.50 324.13L504.50 324.14L505.50 324.15L506.50 324.16L507.50 324.18L508.50 324.19L509.50 324.20L510.50 324.21L511.50 324.22L512.50 324.23L513.50 324.24L514.50 324.25L515.50 324.26L516.50 324.28L517.50 324.29L518.50 324.30L519.50 324.31L520.50 324.33L521.50 324.34L522.50 324.35L523.50 324.37L524.50 324.38L525.50 324.39L526.50 324.41L527.50 324.42L528.50 324.44L529.50 324.45L530.50 324.46L531.50 324.48L532.50 324.50L533.50 324.51L534.50 324.53L535.50 324.54L536.50 324.56L537.50 324.58L538.50 324.59L539.50 324.61L540.50 324.63L541.50 324.64L542.50 324.66L543.50 324.68L544.50 324.70L545.50 324.72L546.50 324.74L547.50 324.76L548.50 324.78L549.50 324.80L550.50 324.82L551.50 324.84L552.50 324.86L553.50 324.88L554.50 324.90L555.50 324.92L556.50 324.94L557.50 324.97L558.50 324.99L559.50 325.01L560.50 325.04L561.50 325.06L562.50 325.09L563.50 325.11L564.50 325.14L565.50 325.16L566.50 325.19L567.50 325.21L568.50 325.24L569.50 325.27L570.50 325.29L571.50 325.32L572.50 325.35L573.50 325.38L574.50 325.41L575.50 325.44L576.50 325.47L577.50 325.50L578.50 325.53L579.50 325.56L580.50 325.60L581.50 325.63L582.50 325.66L583.50 325.70L584.50 325.73L585.50 325.77L586.50 325.80L587.50 325.84L588.50 325.87L589.50 325.91L590.50 325.95L591.50 325.99L592.50 326.02L593.50 326.06L594.50 326.10L595.50 326.15L596.50 326.19L597.50 326.23L598.50 326.27L599.50 326.31L600.50 326.36L601.50 326.40L602.50 326.45L603.50 326.49L604.50 326.54L605.50 326.59L606.50 326.64L607.50 326.69L608.50 326.74L609.50 326.79L610.50 326.84L611.50 326.89L612.50 326.94L613.50 327.00L614.50 327.05L615.50 327.11L616.50 327.16L617.50 327.22L618.50 327.28L619.50 327.34L620.50 327.40L621.50 327.46L622.50 327.52L623.50 327.58L624.50 327.65L625.50 327.71L626.50 327.78L627.50 327.85L628.50 327.91L629.50 327.98L630.50 328.05L631.50 328.12L632.50 328.20L633.50 328.27L634.50 328.34L635.50 328.42L636.50 328.50L637.50 328.58L638.50 328.65L639.50 328.74L640.50 328.82L641.50 328.90L642.50 328.99L643.50 329.07L644.50 329.16L645.50 329.25L646.50 329.34L647.50 329.43L648.50 329.52L649.50 329.61L650.50 329.71L651.50 329.81L652.50 329.91L653.50 330.01L654.50 330.11L655.50 330.21L656.50 330.32L657.50 330.42L658.50 330.53L659.50 330.64L660.50 330.75L661.50 330.87L662.50 330.98L663.50 331.10L664.50 331.22L665.50 331.34L666.50 331.46L667.50 331.58L668.50 331.71L669.50 331.84L670.50 331.97L671.50 332.10L672.50 332.24L673.50 332.37L674.50 332.51L675.50 332.65L676.50 332.80L677.50 332.94L678.50 333.09L679.50 333.24L680.50 333.39L681.50 333.55L682.50 333.70L683.50 333.86L684.50 334.02L685.50 334.19L686.50 334.36L687.50 334.53L688.50 334.70L689.50 334.87L690.50 335.05L691.50 335.23L692.50 335.42L693.50 335.60L694.50 335.79L695.50 335.98L696.50 336.18L697.50 336.38L698.50 336.58L699.50 336.78L700.50 336.99L701.50 337.20L702.50 337.42L703.50 337.63L704.50 337.85L705.50 338.08L706.50 338.31L707.50 338.54L708.50 338.77L709.50 339.01L710.50 339.25L711.50 339.50L712.50 339.75L713.50 340.01L714.50 340.26L715.50 340.53L716.50 340.79L717.50 341.06L718.50 341.34L719.50 341.62L720.50 341.90L721.50 342.19L722.50 342.48L723.50 342.78L724.50 343.08L725.50 343.38L726.50 343.69L727.50 344.01L728.50 344.33L729.50 344.66L730.50 344.99L731.50 345.32L732.50 345.66L733.50 346.01L734.50 346.36L735.50 346.72L736.50 347.08L737.50 347.45L738.50 347.83L739.50 348.21L740.50 348.59L741.50 348.99L742.50 349.38L743.50 349.79L744.50 350.20L745.50 350.62L746.50 351.04L747.50 351.47L748.50 351.91L749.50 352.35L750.50 352.81L751.50 353.26L752.50 353.73L753.50 354.20L754.50 354.68L755.50 355.17L756.50 355.66L757.50 356.17L758.50 356.68L759.50 357.20L760.50 357.72L761.50 358.26L762.50 358.80L763.50 359.35L764.50 359.92L765.50 360.48L766.50 361.06L767.50 361.65L768.50 362.25L769.50 362.85L770.50 363.47L771.50 364.09L772.50 364.73L773.50 365.37L774.50 366.03L775.50 366.69L776.50 367.37L777.50 368.05L778.50 368.75L779.50 369.46L780.50 370.18L781.50 370.91L782.50 371.65L783.50 372.40L784.50 373.17L785.50 373.94L786.50 374.73L787.50 375.53L788.50 376.35L789.50 377.17L790.50 378.01L791.50 378.86L792.50 379.73L793.50 380.61L794.50 381.50L795.50 382.41L796.50 383.33L797.50 384.27L798.50 385.22L799.50 386.18L800.50 387.16L801.50 388.16L802.50 389.17L803.50 390.19L804.50 391.24L805.50 392.30L806.50 393.37L807.50 394.46L808.50 395.57L809.50 396.70L810.50 397.85L811.50 399.01L812.50 400.19L813.50 401.39L814.50 402.61L815.50 403.84L816.50 405.10L817.50 406.38L818.50 407.67L819.50 408.99L820.50 410.32L821.50 411.68L822.50 413.06L823.50 414.46L824.50 415.88L825.50 417.33L826.50 418.80L827.50 420.29L828.50 421.80L829.50 423.34L830.50 424.90L831.50 426.48L832.50 428.09L833.50 429.73L834.50 431.39L835.50 433.08L836.50 434.79L837.50 436.53L838.50 438.30L839.50 440.09L840.50 441.92L841.50 443.77L842.50 445.65L843.50 447.56L844.50 449.50L845.50 451.47L846.50 453.47L847.50 455.50L848.50 457.57L849.50 459.66L850.50 461.79L851.50 463.96L852.50 466.15L853.50 468.38L854.50 470.65L855.50 472.95L856.50 475.29L857.50 477.66L858.50 480.07L859.50 482.52L860.50 485.00L861.50 487.53L862.50 490.10L863.50 492.70L864.50 495.35L865.50 498.03L866.50 500.76L867.50 503.53L867.90 504.65" stroke="#d95319" stroke-width="1.1"/>
</g>
<text transform="translate(120 89.7) scale(1 1.08)" text-anchor="end">0</text><text transform="translate(120 160.7) scale(1 1.08)" text-anchor="end">-20</text><text transform="translate(120 231.75) scale(1 1.08)" text-anchor="end">-40</text><text transform="translate(120 328) scale(1 1.08)" text-anchor="end">0</text><text transform="translate(120 389) scale(1 1.08)" text-anchor="end">-5760</text><text transform="translate(120 449) scale(1 1.08)" text-anchor="end">-11520</text><text transform="translate(120 509) scale(1 1.08)" text-anchor="end">-17280</text>
<text transform="translate(125.5 531.75) scale(1 1.08)" text-anchor="middle">10<tspan font-size="8.67px" dy="-4.6">-2</tspan></text><text transform="translate(273.5 531.75) scale(1 1.08)" text-anchor="middle">10<tspan font-size="8.67px" dy="-4.6">-1</tspan></text><text transform="translate(422.5 531.75) scale(1 1.08)" text-anchor="middle">10<tspan font-size="8.67px" dy="-4.6">0</tspan></text><text transform="translate(570.5 531.75) scale(1 1.08)" text-anchor="middle">10<tspan font-size="8.67px" dy="-4.6">1</tspan></text><text transform="translate(719.5 531.75) scale(1 1.08)" text-anchor="middle">10<tspan font-size="8.67px" dy="-4.6">2</tspan></text><text transform="translate(867.5 531.75) scale(1 1.08)" text-anchor="middle">10<tspan font-size="8.67px" dy="-4.6">3</tspan></text>
<text class="lb" transform="translate(495.8 554.9) scale(1 1.08)" text-anchor="middle">Frequency (rad/s)</text>
<text class="lb" transform="translate(93.1 155.75) rotate(-90) scale(1 1.08)" text-anchor="middle">Magnitude (dB)</text>
<text class="lb" transform="translate(70.9 407.75) rotate(-90) scale(1 1.08)" text-anchor="middle">Phase (deg)</text>
</svg>
</body></html>
